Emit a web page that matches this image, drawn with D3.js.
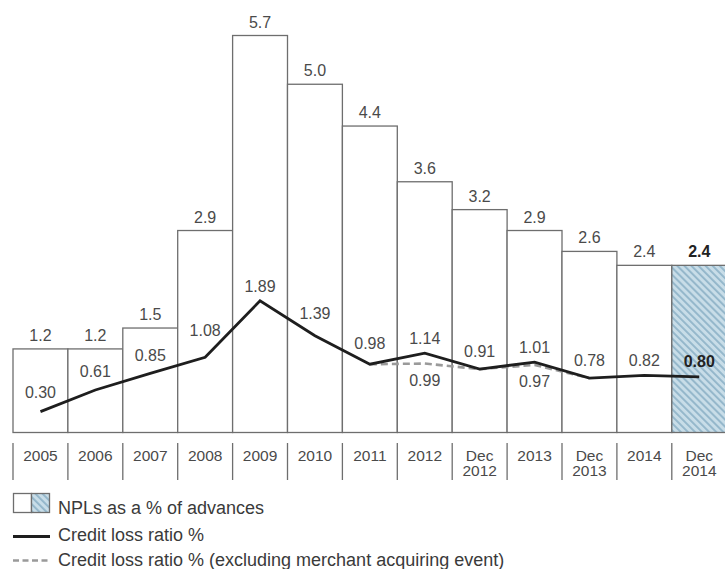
<!DOCTYPE html>
<html>
<head>
<meta charset="utf-8">
<script src="https://cdn.jsdelivr.net/npm/d3@7/dist/d3.min.js"></script>
<style>
  html, body { margin: 0; padding: 0; background: #fff; }
  svg { display: block; font-family: "Liberation Sans", Arial, sans-serif; }
</style>
</head>
<body>
<svg id="chart" width="725" height="569"></svg>
<script>
// Period labels (second line used for the "Dec" periods)
const categories = ["2005", "2006", "2007", "2008", "2009", "2010", "2011", "2012",
                    "Dec 2012", "2013", "Dec 2013", "2014", "Dec 2014"];
// NPLs as a % of advances
const nplValues = [1.2, 1.2, 1.5, 2.9, 5.7, 5.0, 4.4, 3.6, 3.2, 2.9, 2.6, 2.4, 2.4];
// Credit loss ratio %
const clrValues = [0.30, 0.61, 0.85, 1.08, 1.89, 1.39, 0.98, 1.14, 0.91, 1.01, 0.78, 0.82, 0.80];
// Credit loss ratio % excluding the merchant acquiring event
const clrExCategories = ["2011", "2012", "Dec 2012", "2013", "Dec 2013"];
const clrExValues = [0.98, 0.99, 0.91, 0.97, 0.78];
// Only these excluded values get their own label (others coincide with the main line)
const clrExLabelled = ["2012", "2013"];
const highlighted = "Dec 2014";

const legendLabels = ["NPLs as a % of advances", "Credit loss ratio %",
                      "Credit loss ratio % (excluding merchant acquiring event)"];

const svg = d3.select("#chart");
const textColor = "#4a4a4a";

const x = d3.scaleBand().domain(categories).range([13, 726.7]).padding(0);
const y = d3.scaleLinear().domain([0, 5.7]).range([432.5, 35.5]);
const cx = d => x(d) + x.bandwidth() / 2;

// hatch pattern for the latest period
const defs = svg.append("defs");
const pat = defs.append("pattern")
  .attr("id", "hatch").attr("patternUnits", "userSpaceOnUse")
  .attr("width", 5).attr("height", 5)
  .attr("patternTransform", "rotate(-45)");
pat.append("rect").attr("width", 5).attr("height", 5).attr("fill", "#c8dde8");
pat.append("rect").attr("x", 0).attr("width", 1.9).attr("height", 5).attr("fill", "#93b6ca");

// bars
const bars = categories.map((c, i) => ({ c, v: nplValues[i] }));
svg.append("g").selectAll("rect").data(bars).join("rect")
  .attr("x", d => x(d.c))
  .attr("y", d => y(d.v))
  .attr("width", x.bandwidth())
  .attr("height", d => y(0) - y(d.v))
  .attr("fill", d => d.c === highlighted ? "url(#hatch)" : "#fff")
  .attr("stroke", "#6e6e6e")
  .attr("stroke-width", 1.3);

// bar value labels
svg.append("g").selectAll("text").data(bars).join("text")
  .attr("x", d => cx(d.c))
  .attr("y", d => y(d.v) - 8)
  .attr("text-anchor", "middle")
  .attr("font-size", 16)
  .attr("font-weight", d => d.c === highlighted ? "bold" : "normal")
  .attr("fill", d => d.c === highlighted ? "#222" : textColor)
  .text(d => d.v.toFixed(1));

// lines
const line = d3.line().x(d => cx(d.c)).y(d => y(d.v));
const clr = categories.map((c, i) => ({ c, v: clrValues[i] }));
const clrEx = clrExCategories.map((c, i) => ({ c, v: clrExValues[i] }));

svg.append("path").datum(clrEx)
  .attr("d", line).attr("fill", "none")
  .attr("stroke", "#9a9a9a").attr("stroke-width", 2.6)
  .attr("stroke-dasharray", "7,4");

svg.append("path").datum(clr)
  .attr("d", line).attr("fill", "none")
  .attr("stroke", "#1e1e1e").attr("stroke-width", 2.8)
  .attr("stroke-linejoin", "miter");

// line labels: sit just above the highest point of the line near the centre
function lineYAt(px) {
  for (let i = 0; i < clr.length - 1; i++) {
    const x0 = cx(clr[i].c), x1 = cx(clr[i + 1].c);
    if (px >= x0 && px <= x1) {
      const t = (px - x0) / (x1 - x0);
      return y(clr[i].v) + t * (y(clr[i + 1].v) - y(clr[i].v));
    }
  }
  return y(px < cx(clr[0].c) ? clr[0].v : clr[clr.length - 1].v);
}
svg.append("g").selectAll("text").data(clr).join("text")
  .attr("x", d => cx(d.c))
  .attr("y", d => {
    const px = cx(d.c);
    const top = Math.min(lineYAt(px - 12), lineYAt(px), lineYAt(px + 12));
    return top - 9;
  })
  .attr("text-anchor", "middle")
  .attr("font-size", 16)
  .attr("font-weight", d => d.c === highlighted ? "bold" : "normal")
  .attr("fill", d => d.c === highlighted ? "#222" : textColor)
  .text(d => d.v.toFixed(2));

svg.append("g").selectAll("text").data(clrEx.filter(d => clrExLabelled.includes(d.c))).join("text")
  .attr("x", d => cx(d.c))
  .attr("y", d => y(d.v) + 22)
  .attr("text-anchor", "middle")
  .attr("font-size", 16)
  .attr("fill", textColor)
  .text(d => d.v.toFixed(2));

// category axis: separators and (possibly two-line) labels
const axis = d3.axisBottom(x).tickSize(0).tickFormat("");
const axisG = svg.append("g").attr("transform", "translate(0,443)").call(axis);
axisG.select(".domain").remove();
axisG.selectAll(".tick").each(function(d) {
  const g = d3.select(this);
  const parts = d.split(" ");
  const t = g.append("text").attr("text-anchor", "middle")
    .attr("font-size", 15.5).attr("fill", textColor);
  parts.forEach((p, i) => t.append("tspan").attr("x", 0).attr("y", 17.5 + i * 15.5).text(p));
});
svg.append("g").selectAll("line").data(categories).join("line")
  .attr("x1", d => x(d)).attr("x2", d => x(d))
  .attr("y1", 443).attr("y2", 480)
  .attr("stroke", "#6e6e6e").attr("stroke-width", 1.3);

// legend
const lg = svg.append("g");
lg.append("rect").attr("x", 13.5).attr("y", 493.5).attr("width", 18).attr("height", 19)
  .attr("fill", "#fff").attr("stroke", "#6e6e6e").attr("stroke-width", 1.3);
lg.append("rect").attr("x", 31.5).attr("y", 493.5).attr("width", 18).attr("height", 19)
  .attr("fill", "url(#hatch)").attr("stroke", "#6e6e6e").attr("stroke-width", 1.3);
lg.append("line").attr("x1", 13).attr("x2", 50).attr("y1", 536.5).attr("y2", 536.5)
  .attr("stroke", "#1e1e1e").attr("stroke-width", 2.8);
lg.append("line").attr("x1", 13).attr("x2", 50).attr("y1", 560.5).attr("y2", 560.5)
  .attr("stroke", "#9a9a9a").attr("stroke-width", 2.4).attr("stroke-dasharray", "6,3.5");
[514, 541, 566].forEach((yy, i) => {
  lg.append("text").attr("x", 58).attr("y", yy)
    .attr("font-size", 18).attr("fill", "#3a3a3a").text(legendLabels[i]);
});
</script>
</body>
</html>
